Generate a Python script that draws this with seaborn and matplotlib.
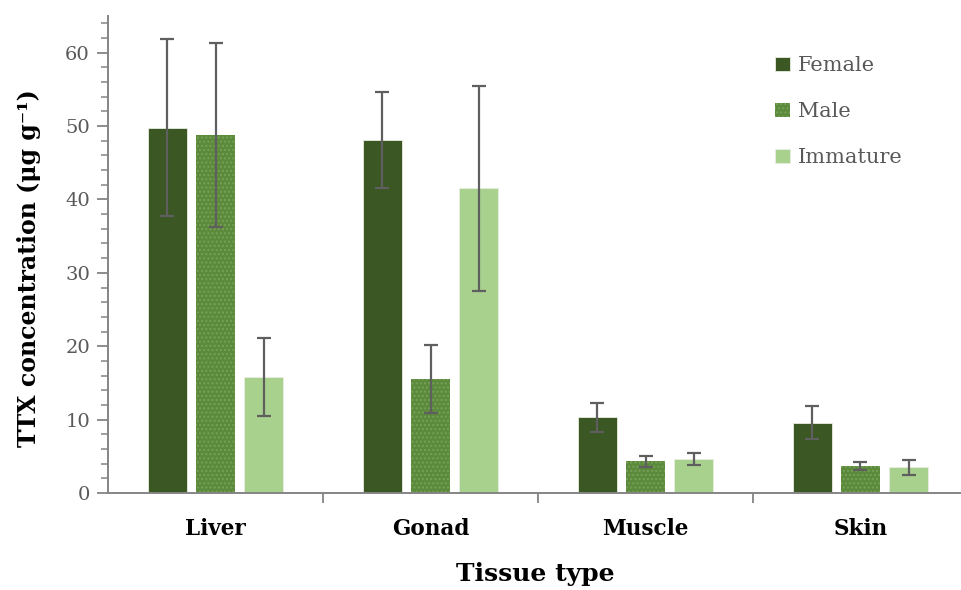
"""TTX concentration by tissue type and sex (bar chart with error bars)."""

import matplotlib
matplotlib.use("Agg")
import matplotlib.pyplot as plt
from matplotlib.ticker import FixedLocator, MultipleLocator
import seaborn as sns
import pandas as pd

# data
tissues = ["Liver", "Gonad", "Muscle", "Skin"]
groups = ["Female", "Male", "Immature"]
female_mean = [49.8, 48.1, 10.3, 9.6]
male_mean = [48.8, 15.5, 4.3, 3.7]
immature_mean = [15.8, 41.5, 4.6, 3.5]
female_err = [12.0, 6.5, 2.0, 2.2]
male_err = [12.5, 4.6, 0.7, 0.5]
immature_err = [5.3, 14.0, 0.8, 1.0]

means = {"Female": female_mean, "Male": male_mean, "Immature": immature_mean}
errs = {"Female": female_err, "Male": male_err, "Immature": immature_err}
colors = {"Female": "#3A5724", "Male": "#5B8A3B", "Immature": "#A9D18E"}

df = pd.DataFrame({
    "tissue": [t for g in groups for t in tissues],
    "group": [g for g in groups for t in tissues],
    "value": [v for g in groups for v in means[g]],
})

sns.set_style("white")
plt.rcParams["font.family"] = ["DejaVu Serif"]
plt.rcParams["hatch.linewidth"] = 1.0

fig = plt.figure(figsize=(9.62, 5.90), dpi=100)
ax = fig.add_axes([108 / 962, 97 / 590, 854 / 962, 477 / 590])

sns.barplot(data=df, x="tissue", y="value", hue="group", order=tissues,
            hue_order=groups, palette=colors, width=0.67, gap=0.2,
            errorbar=None, saturation=1, ax=ax,
            edgecolor="#E8EEE2", linewidth=0.6)

# error bars, placed on the bars seaborn drew
for container, g in zip(ax.containers, groups):
    xs = [b.get_x() + b.get_width() / 2 for b in container]
    hs = [b.get_height() for b in container]
    ax.errorbar(xs, hs, yerr=errs[g], fmt="none", ecolor="#5F5F5F",
                elinewidth=1.6, capsize=5, capthick=1.6, zorder=3)

# dotted texture on the male bars
for b in ax.containers[1]:
    b.set_hatch("....")
    b.set_edgecolor("#78A058")
    b.set_linewidth(0)

ax.set_xlim(-0.5, -0.5 + 854 / 215)
ax.set_ylim(0, 65)

for side in ["top", "right"]:
    ax.spines[side].set_visible(False)
for side in ["left", "bottom"]:
    ax.spines[side].set_color("#858585")
    ax.spines[side].set_linewidth(1.4)

ax.yaxis.set_major_locator(MultipleLocator(10))
ax.yaxis.set_minor_locator(MultipleLocator(2))
ax.tick_params(axis="y", which="major", direction="out", length=8, width=1.3,
               color="#858585", labelsize=14, labelcolor="#595959", left=True,
               pad=5)
ax.tick_params(axis="y", which="minor", direction="out", length=5, width=1.1,
               color="#858585", left=True)

ax.xaxis.set_minor_locator(FixedLocator([0.5, 1.5, 2.5]))
ax.tick_params(axis="x", which="major", length=0, pad=18, labelsize=15.5,
               labelcolor="black")
ax.tick_params(axis="x", which="minor", direction="out", length=7, width=1.3,
               color="#858585", bottom=True)
for lbl in ax.get_xticklabels():
    lbl.set_fontweight("bold")

ax.set_xlabel("Tissue type", fontsize=18, fontweight="bold", labelpad=16,
              color="black")
ax.set_ylabel("TTX concentration (μg g⁻¹)", fontsize=17, fontweight="bold",
              color="black")
ax.yaxis.set_label_coords(-0.078, 0.472)

handles, labels = ax.get_legend_handles_labels()
leg = ax.legend(handles, labels, loc="upper left", bbox_to_anchor=(0.759, 0.955),
                frameon=False, fontsize=15, handlelength=0.7, handleheight=0.7,
                handletextpad=0.4, labelspacing=1.3)
for t in leg.get_texts():
    t.set_color("#595959")
for h, g in zip(leg.legend_handles, groups):
    if g == "Male":
        h.set_hatch("....")
        h.set_edgecolor("#78A058")
        h.set_linewidth(0)

fig.savefig("out.png", dpi=100)
